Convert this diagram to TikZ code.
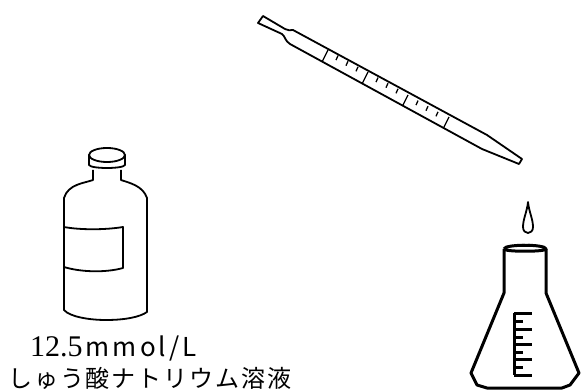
\documentclass[tikz,border=0pt]{standalone}
\usepackage{fontspec}
\setmainfont{Liberation Serif}
\newfontfamily\cjkfont{Noto Sans CJK JP}
\usetikzlibrary{calc,positioning}

\begin{document}
\begin{tikzpicture}[x=1pt,y=-1pt,
   thinline/.style={line width=1.3pt,line join=round},
   midline/.style={line width=1.8pt,line join=round},
   thickline/.style={line width=3pt,line join=round},
   labeltext/.style={inner sep=0pt,font=\fontsize{30}{32}\selectfont}]
   \useasboundingbox (0,0) rectangle (581,390);
   % pipette
   \draw[midline] (258,23) -- (263,16) -- (285,29) .. controls (288,31) and (290,30) .. (293,30)
      -- (487,135) -- (522,159) -- (519,164) -- (482,149) -- (290,44)
      .. controls (285,41) and (285,36) .. (282,34) -- cycle;
   \foreach \x/\y in {328/50,368/72,408/95,449/117}
      \draw[thinline] (\x,\y) -- ++(-5.5,11);
   % short marks between the long ones
   \foreach \x/\y in {328/50,368/72,408/95}
      \foreach \t in {1,2,3}
         \draw[thinline] ($(\x,\y)+\t*(10,5.6)$) -- ++(-2,4.5);
   % bottle
   \draw[midline] (107,155) ellipse [x radius=18,y radius=7];
   \draw[midline] (89,155) -- (89,165) .. controls (91,169) and (123,169) .. (125,165) -- (125,155);
   \draw[midline] (93,170) -- (93,180) .. controls (85,183) and (68,184) .. (64,198)
      -- (64,310) .. controls (70,317) and (90,320) .. (106,320)
      .. controls (125,320) and (140,317) .. (147,312) -- (147,198)
      .. controls (143,186) and (130,183) .. (121,180) -- (121,170);
   \draw[midline] (64,227) .. controls (80,230) and (105,230) .. (123,227) -- (123,268)
      .. controls (105,273) and (80,272) .. (64,267);
   % drop
   \draw[midline] (528,202) .. controls (527,212) and (523,219) .. (523,227)
      .. controls (523,235) and (533,235) .. (533,227)
      .. controls (533,219) and (529,212) .. (528,202) -- cycle;
   % flask
   \draw[thickline] (504,249) .. controls (504,244) and (546,244) .. (546,249)
      .. controls (546,252) and (504,252) .. (504,249);
   \draw[thinline,dashed] (510,246) .. controls (518,244) and (532,244) .. (540,246);
   \draw[thickline] (504,249) -- (504,293) -- (471,373) -- (477,385) -- (487,388) -- (562,388)
      -- (570,385) -- (579,373) -- (546,293) -- (546,249);
   \draw[thickline] (514,313) -- (514,375);
   \foreach \y in {313,329,344,359,375}
      \draw[thickline] (514,\y) -- (532,\y);
   \foreach \y in {321,337,352,367}
      \draw[thickline] (514,\y) -- (523,\y);
   % label
   \node[labeltext,anchor=base west] (conc) at (30,356)
      {12.5\hspace{3pt}{\cjkfont\addfontfeature{LetterSpace=12}\fontsize{26}{28}\selectfont mmol/L}};
   \node[labeltext,anchor=base west,font=\fontsize{24}{26}\selectfont] (name) at (8,387)
      {\cjkfont\addfontfeature{LetterSpace=8}しゅう酸ナトリウム溶液};
\end{tikzpicture}
\end{document}
